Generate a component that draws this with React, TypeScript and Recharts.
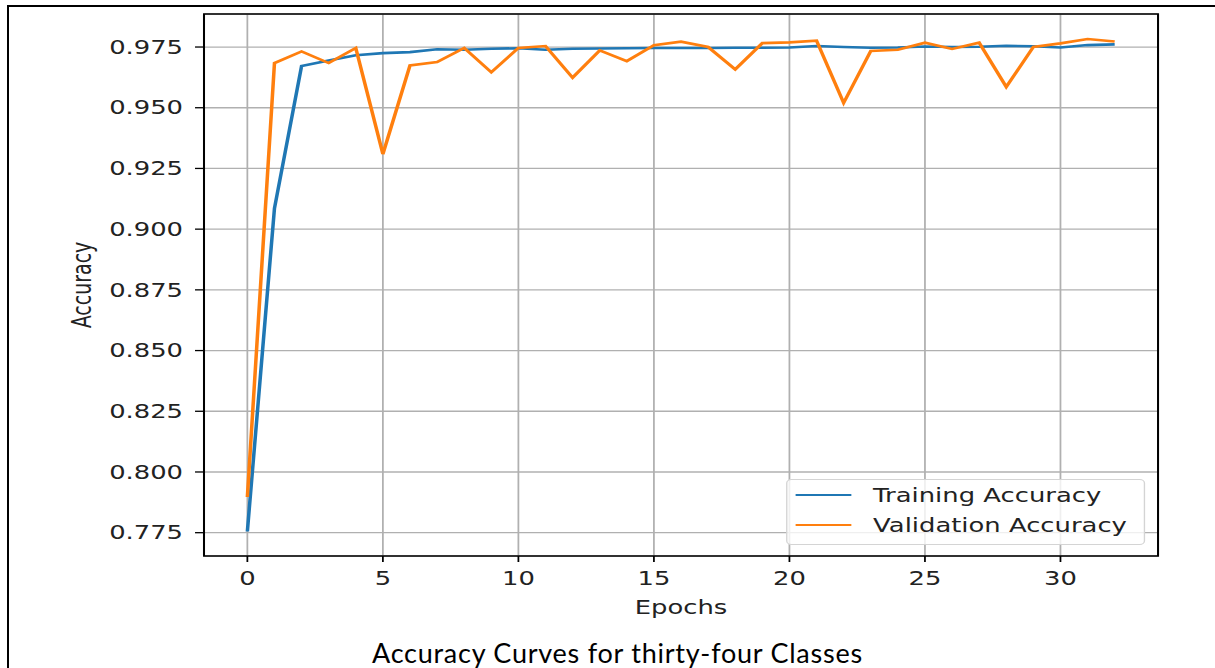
import {
  LineChart,
  Line,
  XAxis,
  YAxis,
  CartesianGrid,
  ReferenceArea,
  Legend,
} from "recharts";

// training / validation accuracy per epoch (epochs 0..32)
const trainAcc = [
  0.7755, 0.9086, 0.9672, 0.9695, 0.9716, 0.9725, 0.9729, 0.9741, 0.9739,
  0.9743, 0.9745, 0.9739, 0.9743, 0.9744, 0.9745, 0.9746, 0.9746, 0.9746,
  0.9747, 0.9747, 0.9748, 0.9754, 0.975, 0.9747, 0.9748, 0.9752, 0.975,
  0.9751, 0.9755, 0.9753, 0.9748, 0.9758, 0.9761,
];

const valAcc = [
  0.7897, 0.9684, 0.9732, 0.9684, 0.9746, 0.9309, 0.9674, 0.9688, 0.9746,
  0.9646, 0.9746, 0.9754, 0.9624, 0.9736, 0.9692, 0.9757, 0.9772, 0.975,
  0.9658, 0.9766, 0.9769, 0.9776, 0.952, 0.9734, 0.9739, 0.9768, 0.9742,
  0.9768, 0.9586, 0.975, 0.9765, 0.9783, 0.9773,
];

const xTicks = [0, 5, 10, 15, 20, 25, 30];
const yTicks = [0.775, 0.8, 0.825, 0.85, 0.875, 0.9, 0.925, 0.95, 0.975];

const X_DOMAIN: [number, number] = [-1.6, 33.6];
const Y_DOMAIN: [number, number] = [0.7654, 0.9886];

const data = trainAcc.map((t, i) => ({ epoch: i, train: t, val: valAcc[i] }));

// the figure is drawn narrow and stretched sideways
const STRETCH = 1.36;
const CHART_W = 894;
const CHART_H = 668;

const TICK_FONT = {
  fontSize: 19,
  fill: "#222",
  fontFamily: "DejaVu Sans",
};

function AccuracyLegend({ payload }: any) {
  return (
    <div
      style={{
        width: 264,
        height: 66,
        boxSizing: "border-box",
        border: "1px solid #d4d4d4",
        borderRadius: 4,
        background: "rgba(255,255,255,0.8)",
        fontFamily: "DejaVu Sans",
        fontSize: 19,
        color: "#222",
      }}
    >
      {(payload || []).map((entry: any) => (
        <div
          key={entry.value}
          style={{ display: "flex", alignItems: "center", height: 30 }}
        >
          <span
            style={{
              marginLeft: 6,
              width: 41,
              height: 2.6,
              background: entry.color,
            }}
          />
          <span style={{ marginLeft: 16, whiteSpace: "nowrap" }}>
            {entry.value}
          </span>
        </div>
      ))}
    </div>
  );
}

function YLabel({ viewBox }: any) {
  const cx = viewBox.x + 60;
  const cy = viewBox.y + viewBox.height / 2;
  return (
    <text
      x={cx}
      y={cy}
      transform={`rotate(-90 ${cx} ${cy})`}
      textAnchor="middle"
      dominantBaseline="central"
      fontSize={19}
      fontFamily="DejaVu Sans"
      fill="#222"
    >
      Accuracy
    </text>
  );
}

export default function App() {
  return (
    <div
      style={{
        position: "absolute",
        left: 0,
        top: 0,
        width: 1215,
        height: 668,
        overflow: "hidden",
        background: "#fff",
      }}
    >
      {/* page frame */}
      <div
        style={{
          position: "absolute",
          left: 7,
          top: 5,
          width: 1400,
          height: 800,
          border: "2.5px solid #000",
        }}
      />

      <div
        style={{
          position: "absolute",
          left: 0,
          top: 0,
          transform: `scaleX(${STRETCH})`,
          transformOrigin: "0 0",
        }}
      >
        <LineChart
          width={CHART_W}
          height={CHART_H}
          data={data}
          margin={{ top: 14, right: 42.5, bottom: 50, left: 0 }}
        >
          <CartesianGrid stroke="#b0b0b0" strokeWidth={1.3} />
          <XAxis
            dataKey="epoch"
            type="number"
            domain={X_DOMAIN}
            ticks={xTicks}
            allowDataOverflow
            height={62}
            axisLine={false}
            tickLine={{ stroke: "#000", strokeWidth: 1.3 }}
            tickSize={6}
            tickMargin={10}
            tick={TICK_FONT}
            label={{
              value: "Epochs",
              position: "insideBottom",
              offset: 4,
              fontSize: 19,
              fontFamily: "DejaVu Sans",
              fill: "#222",
            }}
          />
          <YAxis
            type="number"
            domain={Y_DOMAIN}
            ticks={yTicks}
            allowDataOverflow
            width={150}
            axisLine={false}
            tickLine={{ stroke: "#000", strokeWidth: 1.3 }}
            tickSize={6.6}
            tickMargin={8.8}
            tick={TICK_FONT}
            tickFormatter={(v: number) => v.toFixed(3)}
            label={{ content: YLabel }}
          />
          <Line
            name="Training Accuracy"
            dataKey="train"
            stroke="#1f77b4"
            strokeWidth={2.6}
            dot={false}
            isAnimationActive={false}
          />
          <Line
            name="Validation Accuracy"
            dataKey="val"
            stroke="#ff7f0e"
            strokeWidth={2.6}
            dot={false}
            isAnimationActive={false}
          />
          <ReferenceArea
            x1={X_DOMAIN[0]}
            x2={X_DOMAIN[1]}
            y1={Y_DOMAIN[0]}
            y2={Y_DOMAIN[1]}
            fill="none"
            stroke="#000"
            strokeWidth={1.5}
            ifOverflow="visible"
          />
          <Legend
            layout="vertical"
            align="center"
            verticalAlign="middle"
            content={AccuracyLegend}
            wrapperStyle={{ left: 578, top: 479, width: 264, height: 66 }}
          />
        </LineChart>
      </div>

      <div
        style={{
          position: "absolute",
          left: 372,
          top: 639,
          fontFamily: "Lato",
          fontSize: 27,
          letterSpacing: 0.75,
          lineHeight: "27px",
          color: "#000",
          whiteSpace: "nowrap",
        }}
      >
        Accuracy Curves for thirty-four Classes
      </div>
    </div>
  );
}
